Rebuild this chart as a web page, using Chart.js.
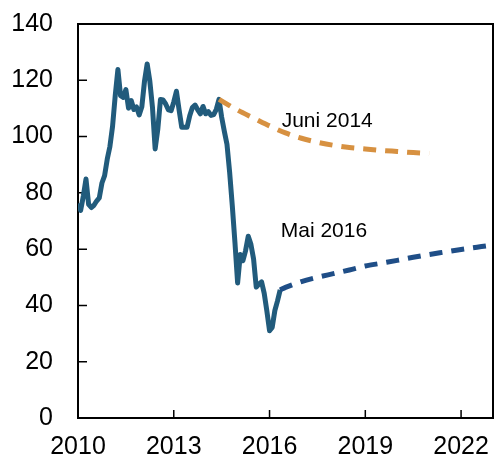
<!DOCTYPE html>
<html>
<head>
<meta charset="utf-8">
<script src="https://cdn.jsdelivr.net/npm/chart.js@4/dist/chart.umd.min.js"></script>
<style>
  html, body { margin: 0; padding: 0; background: #fff; }
  #wrap { width: 495px; height: 459px; }
</style>
</head>
<body>
<div id="wrap"><canvas id="c" width="495" height="459"></canvas></div>
<script>
// Monthly oil price, Jan 2010 - May 2016
const histStartYear = 2010;
const histValues = [
  76.2, 73.8, 78.8, 84.9, 75.9, 74.8, 75.6, 77.1, 78.2, 83.5, 86.1, 92.0,
  96.5, 103.7, 114.6, 123.8, 114.5, 113.9, 116.7, 110.1, 112.8, 109.6, 110.5, 107.7,
  110.6, 119.7, 125.8, 119.7, 110.3, 95.6, 102.6, 113.2, 113.0, 111.5, 109.5, 109.2,
  112.3, 116.1, 109.5, 103.3, 103.3, 103.3, 107.4, 110.3, 111.2, 109.5, 108.1, 110.7,
  108.1, 108.9, 107.5, 107.8, 109.7, 113.2, 106.9, 101.9, 97.3, 87.3, 75.4, 62.3,
  48.0, 58.1, 55.9, 59.5, 64.6, 61.7, 56.5, 46.5, 47.6, 48.4, 44.3, 38.0,
  31.0, 32.2, 38.2, 41.6, 45.5
];

// Futures curve, June 2014
const juni2014Years  = [2014.42, 2015.0, 2015.5, 2016.0, 2016.5, 2017.0, 2017.5, 2018.0, 2018.5, 2019.0, 2019.5, 2020.0, 2020.5, 2021.0];
const juni2014Values = [113.2, 109.4, 106.6, 103.8, 101.3, 99.4, 98.0, 96.9, 96.1, 95.6, 95.1, 94.7, 94.3, 94.0];

// Futures curve, May 2016
const mai2016Years  = [2016.33, 2016.5, 2017.0, 2017.5, 2018.0, 2018.5, 2019.0, 2019.5, 2020.0, 2020.5, 2021.0, 2021.5, 2022.0, 2022.5, 2023.0];
const mai2016Values = [45.5, 46.4, 48.5, 50.0, 51.3, 52.6, 54.0, 55.0, 56.0, 57.1, 58.1, 59.0, 59.9, 60.7, 61.5];

const xTickYears = [2010, 2013, 2016, 2019, 2022];
const yTickValues = [0, 20, 40, 60, 80, 100, 120, 140];

const labels = [
  { text: 'Juni 2014', x: 2016.38, y: 105.6 },
  { text: 'Mai 2016',  x: 2016.35, y: 66.4 }
];

const histData = histValues.map((v, i) => ({ x: histStartYear + i / 12, y: v }));
const juniData = juni2014Years.map((x, i) => ({ x, y: juni2014Values[i] }));
const maiData  = mai2016Years.map((x, i) => ({ x, y: mai2016Values[i] }));

const FONT = "'Liberation Sans', Arial, sans-serif";

const framePlugin = {
  id: 'frame',
  beforeDatasetsDraw(chart) {
    const { ctx, chartArea: a, scales } = chart;
    ctx.save();
    ctx.strokeStyle = '#000';
    ctx.lineWidth = 2;
    ctx.strokeRect(a.left, a.top, a.right - a.left, a.bottom - a.top);
    ctx.lineWidth = 1.5;
    ctx.beginPath();
    xTickYears.forEach(v => {
      const px = scales.x.getPixelForValue(v);
      if (px > a.left + 1 && px < a.right - 1) {
        ctx.moveTo(px, a.bottom);
        ctx.lineTo(px, a.bottom - 8);
      }
    });
    yTickValues.forEach(v => {
      const py = scales.y.getPixelForValue(v);
      if (py > a.top - 1 && py < a.bottom - 1) {
        ctx.moveTo(a.left, py);
        ctx.lineTo(a.left + 9, py);
      }
    });
    ctx.stroke();
    ctx.restore();
  },
  afterDatasetsDraw(chart) {
    const { ctx, scales } = chart;
    ctx.save();
    ctx.fillStyle = '#000';
    ctx.font = "21px " + FONT;
    ctx.textAlign = 'left';
    ctx.textBaseline = 'middle';
    labels.forEach(l => {
      ctx.fillText(l.text, scales.x.getPixelForValue(l.x), scales.y.getPixelForValue(l.y));
    });
    ctx.restore();
  }
};

new Chart(document.getElementById('c'), {
  type: 'line',
  data: {
    datasets: [
      {
        data: juniData,
        borderColor: '#d79141',
        borderWidth: 5,
        borderDash: [13, 9],
        pointRadius: 0,
        cubicInterpolationMode: 'monotone',
        fill: false
      },
      {
        data: maiData,
        borderColor: '#1f4e87',
        borderWidth: 5,
        borderDash: [13, 9],
        pointRadius: 0,
        cubicInterpolationMode: 'monotone',
        fill: false
      },
      {
        data: histData,
        borderColor: '#215b7c',
        borderWidth: 5,
        pointRadius: 0,
        tension: 0,
        borderJoinStyle: 'round',
        fill: false
      }
    ]
  },
  options: {
    responsive: false,
    animation: false,
    devicePixelRatio: 1,
    layout: { autoPadding: false, padding: { left: 13, top: 24, right: 2, bottom: 0 } },
    plugins: { legend: { display: false }, tooltip: { enabled: false } },
    scales: {
      x: {
        type: 'linear',
        min: 2010,
        max: 2023,
        grid: { display: false, drawTicks: false },
        border: { display: false },
        ticks: {
          stepSize: 3,
          includeBounds: false,
          autoSkip: false,
          maxRotation: 0,
          padding: 17,
          color: '#000',
          font: { family: FONT, size: 25, lineHeight: 1 },
          callback: v => String(v)
        },
        afterFit(scale) {
          scale.height = 41;
          scale.paddingLeft = 0;
          scale.paddingRight = 0;
        }
      },
      y: {
        min: 0,
        max: 140,
        grid: { display: false, drawTicks: false },
        border: { display: false },
        ticks: {
          stepSize: 20,
          padding: 25,
          color: '#000',
          font: { family: FONT, size: 25, lineHeight: 1 },
          callback: v => String(v)
        },
        afterFit(scale) {
          scale.width = 65;
          scale.paddingTop = 0;
          scale.paddingBottom = 0;
        }
      }
    }
  },
  plugins: [framePlugin]
});
</script>
</body>
</html>
